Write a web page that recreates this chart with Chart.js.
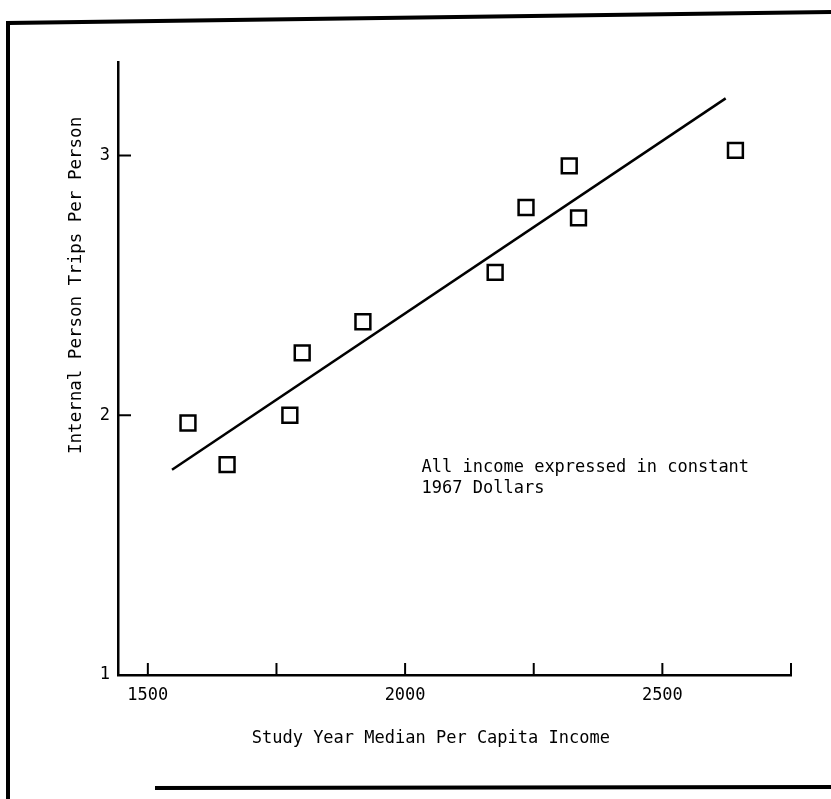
<!DOCTYPE html>
<html>
<head>
<meta charset="utf-8">
<title>Internal Person Trips vs Income</title>
<script src="https://cdn.jsdelivr.net/npm/chart.js@4.4.1/dist/chart.umd.min.js"></script>
<style>
  html, body { margin: 0; padding: 0; background: #fff; }
  #wrap { width: 831px; height: 799px; position: relative; }
</style>
</head>
<body>
<div id="wrap"><canvas id="chart" width="831" height="799"></canvas></div>
<script>
// Observed study areas: median per capita income vs trips per person
const incomes = [1578, 1654, 1776, 1800, 1918, 2175, 2235, 2319, 2337, 2642];
const tripsPerPerson = [1.97, 1.81, 2.00, 2.24, 2.36, 2.55, 2.80, 2.96, 2.76, 3.02];

// Fitted line, drawn between its two end points
const fitIncome = [1547, 2623];
const fitTrips = [1.79, 3.22];

// Axis ticks and which of them carry a label
const xTicks = [1500, 1750, 2000, 2250, 2500, 2750];
const xTickLabels = ["1500", "", "2000", "", "2500", ""];
const yTicks = [1, 2, 3];
const yTickLabels = ["1", "2", "3"];

const xTitle = "Study Year Median Per Capita Income";
const yTitle = "Internal Person Trips Per Person";
const noteLines = ["All income expressed in constant", "1967 Dollars"];

const FONT = "'DejaVu Sans Mono', 'Liberation Mono', monospace";

// page frame (thick scanned border)
const framePlugin = {
  id: "frame",
  beforeDraw(chart) {
    const ctx = chart.ctx;
    ctx.save();
    ctx.strokeStyle = "#000";
    ctx.lineWidth = 4;
    ctx.beginPath();
    ctx.moveTo(8, 799);
    ctx.lineTo(8, 23);
    ctx.lineTo(831, 12);
    ctx.stroke();
    ctx.beginPath();
    ctx.moveTo(155, 788);
    ctx.lineTo(831, 787);
    ctx.stroke();
    ctx.restore();
  }
};

// tick marks pointing into the plot, plus captions
const axesPlugin = {
  id: "axesExtras",
  afterDraw(chart) {
    const ctx = chart.ctx;
    const xs = chart.scales.x, ys = chart.scales.y;
    const area = chart.chartArea;
    ctx.save();
    ctx.strokeStyle = "#000";
    ctx.lineWidth = 2;
    xs.ticks.forEach(t => {
      const px = xs.getPixelForValue(t.value);
      ctx.beginPath();
      ctx.moveTo(px, area.bottom);
      ctx.lineTo(px, area.bottom - 12);
      ctx.stroke();
    });
    ys.ticks.forEach(t => {
      if (t.value === ys.min) return;
      const py = ys.getPixelForValue(t.value);
      ctx.beginPath();
      ctx.moveTo(area.left, py);
      ctx.lineTo(area.left + 13, py);
      ctx.stroke();
    });

    ctx.fillStyle = "#000";
    ctx.font = "17px " + FONT;
    // x axis title
    ctx.textAlign = "center";
    ctx.textBaseline = "middle";
    ctx.fillText(xTitle, xs.getPixelForValue(2050), area.bottom + 64);
    // y axis title
    ctx.save();
    ctx.translate(area.left - 42, ys.getPixelForValue(2.5));
    ctx.rotate(-Math.PI / 2);
    ctx.font = "17.5px " + FONT;
    ctx.fillText(yTitle, 0, 0);
    ctx.restore();
    // note
    ctx.textAlign = "left";
    ctx.textBaseline = "alphabetic";
    const nx = xs.getPixelForValue(2032);
    const ny = ys.getPixelForValue(1.78);
    noteLines.forEach((line, i) => ctx.fillText(line, nx, ny + i * 21));
    ctx.restore();
  }
};

new Chart(document.getElementById("chart").getContext("2d"), {
  type: "scatter",
  data: {
    datasets: [
      {
        type: "line",
        data: fitIncome.map((x, i) => ({ x: x, y: fitTrips[i] })),
        borderColor: "#000",
        borderWidth: 2.5,
        pointRadius: 0,
        fill: false
      },
      {
        data: incomes.map((x, i) => ({ x: x, y: tripsPerPerson[i] })),
        pointStyle: "rect",
        pointRadius: 10.5,
        pointBorderWidth: 2.5,
        pointBorderColor: "#000",
        pointBackgroundColor: "#fff"
      }
    ]
  },
  options: {
    responsive: false,
    animation: false,
    devicePixelRatio: 1,
    layout: { padding: { top: 62, right: 40, left: 0, bottom: 0 } },
    plugins: {
      legend: { display: false },
      tooltip: { enabled: false }
    },
    scales: {
      x: {
        type: "linear",
        min: 1442,
        max: 2750,
        afterFit: scale => { scale.height = 124; },
        afterBuildTicks: scale => { scale.ticks = xTicks.map(v => ({ value: v })); },
        ticks: {
          padding: 10,
          maxRotation: 0,
          autoSkip: false,
          color: "#000",
          font: { family: FONT, size: 17 },
          callback: (v, i) => xTickLabels[xTicks.indexOf(v)] || ""
        },
        grid: { display: true, drawOnChartArea: false, drawTicks: false },
        border: { color: "#000", width: 2.5 }
      },
      y: {
        type: "linear",
        min: 1,
        max: 3.36,
        afterFit: scale => { scale.width = 118; },
        afterBuildTicks: scale => { scale.ticks = yTicks.map(v => ({ value: v })); },
        ticks: {
          padding: 8,
          color: "#000",
          font: { family: FONT, size: 17 },
          callback: v => yTickLabels[yTicks.indexOf(v)] || ""
        },
        grid: { display: true, drawOnChartArea: false, drawTicks: false },
        border: { color: "#000", width: 2.5 }
      }
    }
  },
  plugins: [framePlugin, axesPlugin]
});
</script>
</body>
</html>
